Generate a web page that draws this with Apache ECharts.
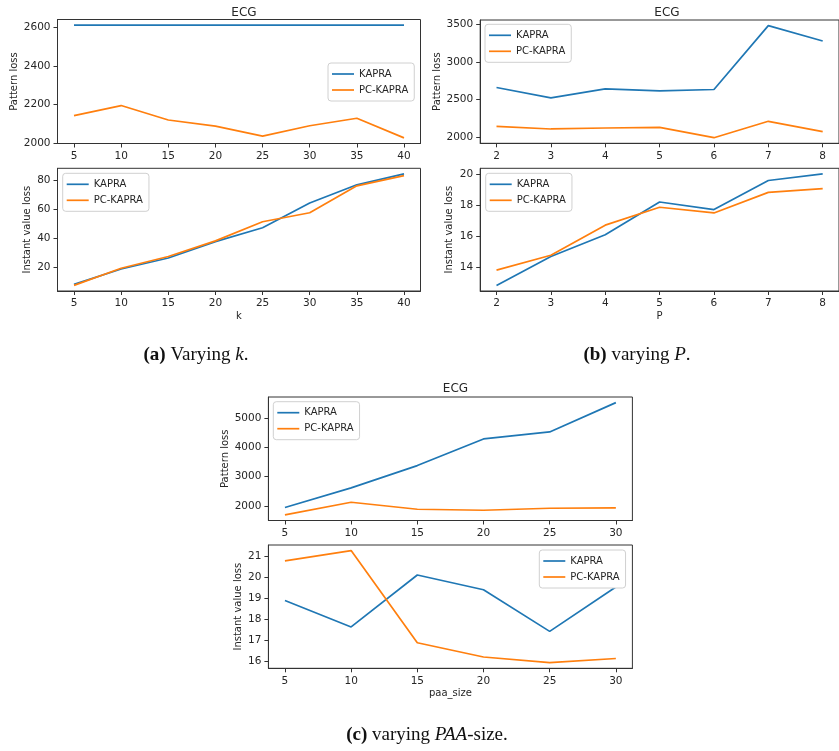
<!DOCTYPE html>
<html>
<head>
<meta charset="utf-8">
<script src="https://cdn.jsdelivr.net/npm/echarts@6/dist/echarts.min.js"></script>
<style>
  html, body { margin: 0; padding: 0; background: #fff; }
  #chart { width: 839px; height: 751px; }
</style>
</head>
<body>
<div id="chart"></div>
<script>
// x values
var kValues = [5, 10, 15, 20, 25, 30, 35, 40];
var pValues = [2, 3, 4, 5, 6, 7, 8];
var paaValues = [5, 10, 15, 20, 25, 30];

// (a) varying k
var aPatternKapra = [2612, 2612, 2612, 2612, 2612, 2612, 2612, 2612];
var aPatternPc = [2142, 2194, 2119, 2087, 2035, 2089, 2128, 2026];
var aInstantKapra = [7.9, 18.6, 26.2, 37.6, 47.2, 64.4, 77.0, 84.6];
var aInstantPc = [7.2, 19.1, 27.3, 38.1, 51.4, 57.6, 76.3, 83.4];

// (b) varying P
var bPatternKapra = [2659, 2521, 2641, 2614, 2632, 3482, 3277];
var bPatternPc = [2142, 2107, 2120, 2129, 1991, 2209, 2071];
var bInstantKapra = [12.82, 14.69, 16.10, 18.22, 17.73, 19.61, 20.04];
var bInstantPc = [13.81, 14.77, 16.72, 17.88, 17.51, 18.84, 19.08];

// (c) varying paa_size
var cPatternKapra = [1943, 2613, 3375, 4284, 4523, 5523];
var cPatternPc = [1693, 2125, 1886, 1852, 1920, 1932];
var cInstantKapra = [18.90, 17.64, 20.11, 19.41, 17.43, 19.54];
var cInstantPc = [20.78, 21.27, 16.89, 16.21, 15.94, 16.14];

// tick labels
var aPatternTicks = [2000, 2200, 2400, 2600];
var aInstantTicks = [20, 40, 60, 80];
var bPatternTicks = [2000, 2500, 3000, 3500];
var bInstantTicks = [14, 16, 18, 20];
var cPatternTicks = [2000, 3000, 4000, 5000];
var cInstantTicks = [16, 17, 18, 19, 20, 21];

var seriesNames = ['KAPRA', 'PC-KAPRA'];
var colors = ['#1f77b4', '#ff7f0e'];
var font = '"DejaVu Sans", sans-serif';
var textColor = '#262626';

// matplotlib style 5% margins
function pad(arrs) {
    var all = [].concat.apply([], arrs);
    var lo = Math.min.apply(null, all), hi = Math.max.apply(null, all);
    var m = (hi - lo) * 0.05;
    return { min: lo - m, max: hi + m };
}
function plain(v) { return String(v); }

var panels = [
    { x: kValues, xName: '', yName: 'Pattern loss', yTicks: aPatternTicks, k: aPatternKapra, pc: aPatternPc,
      grid: { left: 57.5, top: 19.5, width: 363, height: 124 }, legend: { left: 328, top: 63 }, nameGap: 37 },
    { x: kValues, xName: 'k', yName: 'Instant value loss', yTicks: aInstantTicks, k: aInstantKapra, pc: aInstantPc,
      grid: { left: 57.5, top: 168.3, width: 363, height: 122.7 }, legend: { left: 62.7, top: 173.3 }, nameGap: 25 },
    { x: pValues, xName: '', yName: 'Pattern loss', yTicks: bPatternTicks, k: bPatternKapra, pc: bPatternPc,
      grid: { left: 480.2, top: 20, width: 364, height: 123.3 }, legend: { left: 485, top: 24.3 }, nameGap: 37 },
    { x: pValues, xName: 'P', yName: 'Instant value loss', yTicks: bInstantTicks, k: bInstantKapra, pc: bInstantPc,
      grid: { left: 480.2, top: 168.3, width: 364, height: 122.7 }, legend: { left: 485.7, top: 173.3 }, nameGap: 26 },
    { x: paaValues, xName: '', yName: 'Pattern loss', yTicks: cPatternTicks, k: cPatternKapra, pc: cPatternPc,
      grid: { left: 268.4, top: 397, width: 364, height: 123.5 }, legend: { left: 273.3, top: 401.7 }, nameGap: 37 },
    { x: paaValues, xName: 'paa_size', yName: 'Instant value loss', yTicks: cInstantTicks, k: cInstantKapra, pc: cInstantPc,
      grid: { left: 268.4, top: 545, width: 364, height: 123.3 }, legend: { left: 539.3, top: 550 }, nameGap: 25 }
];

var grid = [], xAxis = [], yAxis = [], series = [], legend = [];

panels.forEach(function (p, i) {
    grid.push(Object.assign({ show: true, borderColor: '#333', borderWidth: 1, backgroundColor: '#fff' }, p.grid));
    var xr = pad([p.x]);
    var yr = pad([p.k, p.pc]);
    xAxis.push({
        type: 'value', gridIndex: i, min: xr.min, max: xr.max,
        name: p.xName, nameLocation: 'middle', nameGap: 20,
        nameTextStyle: { fontFamily: font, fontSize: 10, color: textColor },
        axisLine: { show: true, onZero: false, lineStyle: { color: '#333' } },
        axisTick: { show: true, length: 4, lineStyle: { color: '#333' }, customValues: p.x },
        axisLabel: { fontFamily: font, fontSize: 10.5, color: textColor, margin: 7, customValues: p.x, formatter: plain },
        splitLine: { show: false }
    });
    yAxis.push({
        type: 'value', gridIndex: i, min: yr.min, max: yr.max,
        name: p.yName, nameLocation: 'middle', nameGap: p.nameGap,
        nameTextStyle: { fontFamily: font, fontSize: 10, color: textColor },
        axisLine: { show: true, onZero: false, lineStyle: { color: '#333' } },
        axisTick: { show: true, length: 4, lineStyle: { color: '#333' }, customValues: p.yTicks },
        axisLabel: { fontFamily: font, fontSize: 10.5, color: textColor, margin: 7, customValues: p.yTicks, formatter: plain },
        splitLine: { show: false }
    });
    [p.k, p.pc].forEach(function (vals, j) {
        series.push({
            name: seriesNames[j], type: 'line', xAxisIndex: i, yAxisIndex: i,
            data: p.x.map(function (xv, n) { return [xv, vals[n]]; }),
            symbol: 'none', animation: false,
            lineStyle: { color: colors[j], width: 1.7 },
            itemStyle: { color: colors[j] }
        });
    });
    legend.push({
        data: seriesNames, orient: 'vertical', left: p.legend.left, top: p.legend.top,
        icon: 'rect', itemWidth: 22, itemHeight: 1.7, itemGap: 4, itemTextGap: 7,
        padding: [5, 6, 5, 4],
        backgroundColor: '#fff', borderColor: '#d0d0d0', borderWidth: 1, borderRadius: 3,
        textStyle: { fontFamily: font, fontSize: 10, color: textColor, lineHeight: 12 },
        selectedMode: false
    });
});

var titles = [
    { text: 'ECG', left: 239, top: 2, textAlign: 'center' },
    { text: 'ECG', left: 662, top: 2, textAlign: 'center' },
    { text: 'ECG', left: 450.5, top: 378, textAlign: 'center' }
].map(function (t) {
    t.textStyle = { fontFamily: font, fontSize: 12, fontWeight: 'normal', color: textColor };
    return t;
});

var serif = '"Liberation Serif", "Times New Roman", serif';
var richCap = {
    b: { fontFamily: serif, fontSize: 19, fontWeight: 'bold', fill: '#111' },
    i: { fontFamily: serif, fontSize: 19, fontStyle: 'italic', fill: '#111' }
};
function caption(x, y, txt) {
    return {
        type: 'text', x: x, y: y,
        style: {
            text: txt, rich: richCap, fontFamily: serif, fontSize: 19, fill: '#111',
            align: 'center', verticalAlign: 'middle'
        }
    };
}

var chart = echarts.init(document.getElementById('chart'), null, { renderer: 'canvas' });
chart.setOption({
    backgroundColor: '#fff',
    animation: false,
    title: titles,
    grid: grid,
    xAxis: xAxis,
    yAxis: yAxis,
    legend: legend,
    series: series,
    graphic: [
        caption(196, 355, '{b|(a)} Varying {i|k}.'),
        caption(637, 355, '{b|(b)} varying {i|P}.'),
        caption(427, 735, '{b|(c)} varying {i|PAA}-size.')
    ]
});
</script>
</body>
</html>
